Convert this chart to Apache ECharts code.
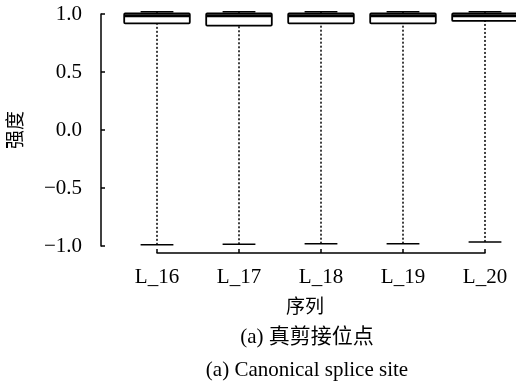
<!DOCTYPE html>
<html>
<head>
<meta charset="utf-8">
<script src="https://cdn.jsdelivr.net/npm/echarts@6/dist/echarts.min.js"></script>
<style>
  html, body { margin: 0; padding: 0; background: #fff; }
  #chart { width: 516px; height: 388px; }
</style>
</head>
<body>
<div id="chart"></div>
<script>
// Sequence positions and box-plot statistics of the splice-site intensity
const categories = ['L_16', 'L_17', 'L_18', 'L_19', 'L_20'];
const lowerWhisker = [-0.99, -0.985, -0.98, -0.98, -0.965];
const lowerQuartile = [0.92, 0.90, 0.92, 0.92, 0.94];
const medians = [0.985, 0.985, 0.985, 0.985, 0.985];
const upperQuartile = [1.005, 1.005, 1.005, 1.005, 1.005];
const upperWhisker = [1.02, 1.02, 1.02, 1.02, 1.02];
const yTicks = { min: -1, max: 1, step: 0.5 };

const FONT = "'Liberation Serif', 'Times New Roman', 'Noto Sans CJK SC', serif";

const boxData = categories.map((c, i) => [
  i, lowerWhisker[i], lowerQuartile[i], medians[i], upperQuartile[i], upperWhisker[i]
]);

function renderBox(params, api) {
  const idx = api.value(0);
  const pLow = api.coord([idx, api.value(1)]);
  const pQ1 = api.coord([idx, api.value(2)]);
  const pMed = api.coord([idx, api.value(3)]);
  const pQ3 = api.coord([idx, api.value(4)]);
  const pHigh = api.coord([idx, api.value(5)]);
  const bw = api.size([1, 0])[0] * 0.8;
  const cw = bw * 0.5;
  const cx = pQ1[0];
  const dotted = { stroke: '#000', lineWidth: 1.5, lineDash: [2, 2] };
  const solid = { stroke: '#000', lineWidth: 1.5 };
  return {
    type: 'group',
    children: [
      { type: 'line', shape: { x1: cx, y1: pLow[1], x2: cx, y2: pQ1[1] }, style: dotted },
      { type: 'line', shape: { x1: cx, y1: pQ3[1], x2: cx, y2: pHigh[1] }, style: dotted },
      { type: 'line', shape: { x1: cx - cw / 2, y1: pLow[1], x2: cx + cw / 2, y2: pLow[1] }, style: solid },
      { type: 'line', shape: { x1: cx - cw / 2, y1: pHigh[1], x2: cx + cw / 2, y2: pHigh[1] }, style: solid },
      {
        type: 'rect',
        shape: { x: cx - bw / 2, y: pQ3[1], width: bw, height: pQ1[1] - pQ3[1], r: 1 },
        style: { fill: '#fff', stroke: '#000', lineWidth: 1.8 }
      },
      { type: 'line', shape: { x1: cx - bw / 2, y1: pMed[1], x2: cx + bw / 2, y2: pMed[1] }, style: { stroke: '#000', lineWidth: 3 } }
    ]
  };
}

const chart = echarts.init(document.getElementById('chart'), null, { renderer: 'canvas' });
chart.setOption({
  backgroundColor: '#fff',
  animation: false,
  textStyle: { fontFamily: FONT, color: '#000' },
  title: [
    {
      text: '(a) 真剪接位点', left: 302, top: 322, textAlign: 'center',
      textStyle: { fontFamily: FONT, fontSize: 21, fontWeight: 'normal', color: '#000' }
    },
    {
      text: '(a) Canonical splice site', left: 302, top: 355, textAlign: 'center',
      textStyle: { fontFamily: FONT, fontSize: 21, fontWeight: 'normal', color: '#000' }
    }
  ],
  grid: { left: 154, right: 31, top: 14, bottom: 142, containLabel: false },
  xAxis: {
    type: 'category',
    data: categories,
    boundaryGap: false,
    offset: 7,
    name: '序列',
    nameLocation: 'middle',
    nameGap: 46,
    nameTextStyle: { fontFamily: FONT, fontSize: 19, color: '#000', padding: [0, 32, 0, 0] },
    axisLine: { onZero: false, lineStyle: { color: '#000', width: 1.5 } },
    axisTick: { inside: true, length: 4, lineStyle: { color: '#000', width: 1.5 } },
    axisLabel: { fontFamily: FONT, fontSize: 21, color: '#000', margin: 14 },
    splitLine: { show: false }
  },
  yAxis: {
    type: 'value',
    min: yTicks.min,
    max: yTicks.max,
    interval: yTicks.step,
    offset: 56,
    name: '强度',
    nameLocation: 'middle',
    nameGap: 74,
    nameRotate: 90,
    nameTextStyle: { fontFamily: FONT, fontSize: 19, color: '#000' },
    axisLine: { show: true, onZero: false, lineStyle: { color: '#000', width: 1.5 } },
    axisTick: { show: true, inside: true, length: 4, lineStyle: { color: '#000', width: 1.5 } },
    axisLabel: {
      fontFamily: FONT, fontSize: 21, color: '#000', margin: 19,
      formatter: v => v.toFixed(1).replace('-', '\u2212')
    },
    splitLine: { show: false }
  },
  series: [{
    type: 'custom',
    renderItem: renderBox,
    clip: false,
    encode: { x: 0, y: [1, 2, 3, 4, 5] },
    data: boxData
  }]
});
</script>
</body>
</html>
